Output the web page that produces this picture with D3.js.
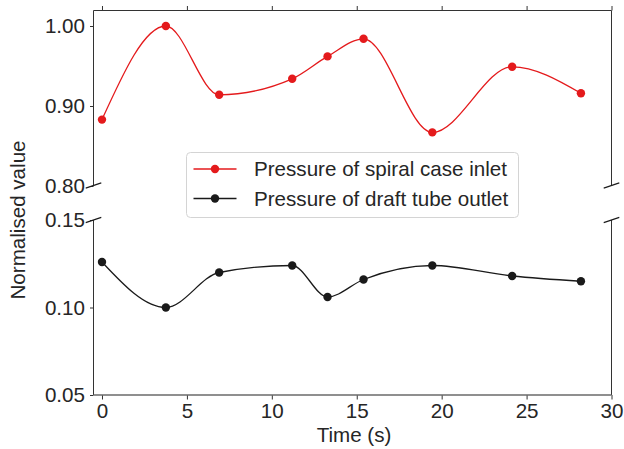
<!DOCTYPE html>
<html>
<head>
<meta charset="utf-8">
<script src="https://cdn.jsdelivr.net/npm/d3@7"></script>
<style>
  html, body { margin: 0; padding: 0; background: #fff; }
  svg { display: block; }
  text { font-family: "Liberation Sans", Arial, Helvetica, sans-serif; fill: #262626; }
</style>
</head>
<body>
<svg id="chart" width="624" height="449"></svg>
<script>
// ---- data ----
const times = [0, 3.76, 6.9, 11.2, 13.28, 15.4, 19.45, 24.15, 28.2];
const spiralCaseInlet = [0.883, 1.000, 0.914, 0.934, 0.962, 0.984, 0.867, 0.949, 0.916];
const draftTubeOutlet = [0.126, 0.100, 0.120, 0.124, 0.106, 0.116, 0.124, 0.118, 0.115];
const xTicks = [0, 5, 10, 15, 20, 25, 30];
const topYTicks = [0.80, 0.90, 1.00];
const bottomYTicks = [0.05, 0.10, 0.15];
const seriesNames = ["Pressure of spiral case inlet", "Pressure of draft tube outlet"];
const seriesColors = ["#e41a1c", "#1a1a1a"];

// ---- layout ----
const W = 624, H = 449;
const L = 93.5, R = 611.5;
const topPanel = { y0: 10.5, y1: 185.5 };
const botPanel = { y0: 220, y1: 395 };
const FS = 20.6;
const axisColor = "#333";

const svg = d3.select("#chart");
svg.append("rect").attr("width", W).attr("height", H).attr("fill", "#fff");

const x = d3.scaleLinear().domain([-0.5, 30]).range([L, R]);
const yTop = d3.scaleLinear().domain([0.80, 1.02]).range([186, topPanel.y0 - 0.5]);
const yBot = d3.scaleLinear().domain([0.05, 0.15]).range([botPanel.y1, botPanel.y0]);

function styleAxis(g) {
  g.select(".domain").remove();
  g.selectAll(".tick line").attr("stroke", axisColor).attr("stroke-width", 1);
  g.selectAll(".tick text").style("font-size", FS + "px").attr("fill", "#262626");
}

// ---- top panel ----
const gTop = svg.append("g");
gTop.append("g").attr("transform", `translate(${L},0)`)
  .call(d3.axisLeft(yTop).tickValues(topYTicks).tickFormat(d3.format(".2f")).tickSize(3.5).tickPadding(5))
  .call(styleAxis);
gTop.append("g").attr("transform", `translate(0,${topPanel.y0})`)
  .call(d3.axisTop(x).tickValues(xTicks).tickFormat("").tickSize(4.5))
  .call(styleAxis);
gTop.append("line").attr("x1", L).attr("x2", L).attr("y1", topPanel.y0).attr("y2", topPanel.y1).attr("stroke", axisColor);
gTop.append("line").attr("x1", R).attr("x2", R).attr("y1", topPanel.y0).attr("y2", topPanel.y1).attr("stroke", axisColor);
gTop.append("line").attr("x1", L).attr("x2", R).attr("y1", topPanel.y0).attr("y2", topPanel.y0).attr("stroke", axisColor);

// ---- bottom panel ----
const gBot = svg.append("g");
gBot.append("g").attr("transform", `translate(${L},0)`)
  .call(d3.axisLeft(yBot).tickValues(bottomYTicks).tickFormat(d3.format(".2f")).tickSize(3.5).tickPadding(5))
  .call(styleAxis);
gBot.append("g").attr("transform", `translate(0,${botPanel.y1})`)
  .call(d3.axisBottom(x).tickValues(xTicks).tickFormat(d3.format("d")).tickSize(4.5).tickPadding(4))
  .call(styleAxis);
gBot.append("line").attr("x1", L).attr("x2", L).attr("y1", botPanel.y0).attr("y2", botPanel.y1).attr("stroke", axisColor);
gBot.append("line").attr("x1", R).attr("x2", R).attr("y1", botPanel.y0).attr("y2", botPanel.y1).attr("stroke", axisColor);
gBot.append("line").attr("x1", L).attr("x2", R).attr("y1", botPanel.y1).attr("y2", botPanel.y1).attr("stroke", "#6a6a6a").attr("stroke-width", 1.6);

// ---- break marks ----
const pw = R - L;
function breakMark(cx, cy, ph) {
  const dx = 0.015 * pw, dy = 0.015 * ph;
  svg.append("line").attr("x1", cx - dx).attr("y1", cy + dy).attr("x2", cx + dx).attr("y2", cy - dy)
    .attr("stroke", "#1a1a1a").attr("stroke-width", 1.1);
}
breakMark(L, topPanel.y1, topPanel.y1 - topPanel.y0);
breakMark(R, topPanel.y1, topPanel.y1 - topPanel.y0);
breakMark(L, botPanel.y0, botPanel.y1 - botPanel.y0);
breakMark(R, botPanel.y0, botPanel.y1 - botPanel.y0);

// ---- series ----
function drawSeries(values, yScale, color) {
  const pts = times.map((t, i) => [t, values[i]]);
  const line = d3.line().x(d => x(d[0])).y(d => yScale(d[1])).curve(d3.curveMonotoneX);
  svg.append("path").datum(pts).attr("d", line).attr("fill", "none")
    .attr("stroke", color).attr("stroke-width", 1.3);
  svg.append("g").selectAll("circle").data(pts).join("circle")
    .attr("cx", d => x(d[0])).attr("cy", d => yScale(d[1])).attr("r", 4.2).attr("fill", color);
}
drawSeries(spiralCaseInlet, yTop, seriesColors[0]);
drawSeries(draftTubeOutlet, yBot, seriesColors[1]);

// ---- legend ----
const lg = svg.append("g");
lg.append("rect").attr("x", 186.5).attr("y", 152.5).attr("width", 332).attr("height", 65)
  .attr("rx", 4).attr("fill", "#fff").attr("fill-opacity", 0.9).attr("stroke", "#d4d4d4");
seriesNames.forEach((name, i) => {
  const cy = 169 + i * 29.5;
  lg.append("line").attr("x1", 193.5).attr("x2", 236.5).attr("y1", cy).attr("y2", cy)
    .attr("stroke", seriesColors[i]).attr("stroke-width", 1.3);
  lg.append("circle").attr("cx", 215).attr("cy", cy).attr("r", 4.2).attr("fill", seriesColors[i]);
  lg.append("text").attr("x", 254).attr("y", cy + 7).style("font-size", FS + "px").text(name);
});

// ---- axis labels ----
svg.append("text").attr("x", 354).attr("y", 442).attr("text-anchor", "middle")
  .style("font-size", FS + "px").text("Time (s)");
svg.append("text").attr("transform", "translate(25,220) rotate(-90)").attr("text-anchor", "middle")
  .style("font-size", FS + "px").text("Normalised value");
</script>
</body>
</html>
